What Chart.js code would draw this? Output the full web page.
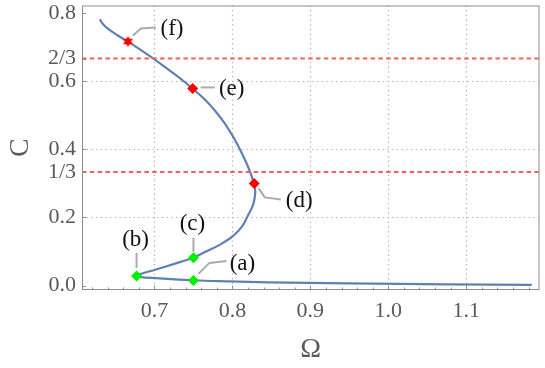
<!DOCTYPE html>
<html>
<head>
<meta charset="utf-8">
<script src="https://cdn.jsdelivr.net/npm/chart.js@4.4.0/dist/chart.umd.min.js"></script>
<style>
  html, body { margin: 0; padding: 0; background: #fff; }
</style>
</head>
<body>
<canvas id="chart" width="545" height="368"></canvas>
<script>
// C(Ω) curve, traced from the upper end down through the fold and out along the lower branch
const omega = [0.6299, 0.6338, 0.6414, 0.6529, 0.6656, 0.6822, 0.7000, 0.7166, 0.7331, 0.7484,
  0.7637, 0.7777, 0.7905, 0.8013, 0.8102, 0.8178, 0.8236, 0.8274, 0.8293, 0.8280,
  0.8248, 0.8201, 0.8127, 0.8006, 0.7841, 0.7662, 0.7497, 0.7274, 0.7019, 0.6767,
  0.7064, 0.7497, 0.7955, 0.8465, 0.9484, 1.0758, 1.1841];
const cValues = [0.7815, 0.7683, 0.7522, 0.7346, 0.7170, 0.6921, 0.6642, 0.6364, 0.6085, 0.5792,
  0.5484, 0.5132, 0.4751, 0.4355, 0.3974, 0.3607, 0.3285, 0.2991, 0.2771, 0.2507,
  0.2273, 0.2067, 0.1745, 0.1452, 0.1202, 0.0997, 0.0815, 0.0651, 0.0469, 0.0279,
  0.0211, 0.0155, 0.0123, 0.0094, 0.0062, 0.0035, 0.0018];

// marked states
const pointLabels = ['(a)', '(b)', '(c)', '(d)', '(e)', '(f)'];
const pointOmega = [0.750, 0.677, 0.750, 0.828, 0.749, 0.666];
const pointC = [0.015, 0.028, 0.0815, 0.300, 0.579, 0.717];

const thresholds = [1 / 3, 2 / 3];

const xTicks = [0.7, 0.8, 0.9, 1.0, 1.1];
const xTickLabels = ['0.7', '0.8', '0.9', '1.0', '1.1'];
const yTicks = [0, 0.2, 1 / 3, 0.4, 0.6, 2 / 3, 0.8];
const yTickLabels = ['0.0', '0.2', '1/3', '0.4', '0.6', '2/3', '0.8'];
const xGrid = [0.7, 0.8, 0.9, 1.0, 1.1];
const yGrid = [0.2, 0.4, 0.6];

const X_MIN = 0.607, X_MAX = 1.194, Y_MIN = -0.0132, Y_MAX = 0.8226;

// look of the markers and callouts (pixel offsets from the marker)
const RED = '#ff0000', GREEN = '#00ee00';
const markerLook = {
  '(a)': { color: GREEN, shape: 'rectRot' },
  '(b)': { color: GREEN, shape: 'rectRot' },
  '(c)': { color: GREEN, shape: 'rectRot' },
  '(d)': { color: RED, shape: 'rectRot' },
  '(e)': { color: RED, shape: 'rectRot' },
  '(f)': { color: RED, shape: 'star' }
};
const calloutLook = {
  '(a)': { leader: [[5, -6.5], [16, -17.5], [33, -19.5]], text: [49, -16] },
  '(b)': { leader: [[0, -8], [0, -23]], text: [-1, -36] },
  '(c)': { leader: [[0, -6], [0, -20]], text: [-1, -34] },
  '(d)': { leader: [[4.5, 5], [10.5, 14], [26.5, 16]], text: [45, 18] },
  '(e)': { leader: [[8, -1], [22, -1]], text: [39, 1] },
  '(f)': { leader: [[5, -6], [13, -13], [28, -14]], text: [44, -12] }
};

function hexStar(r, color) {
  const c = document.createElement('canvas');
  const s = Math.ceil(r * 2 + 2);
  c.width = s; c.height = s;
  const g = c.getContext('2d');
  g.fillStyle = color;
  [-Math.PI / 2, Math.PI / 2].forEach(a0 => {
    g.beginPath();
    for (let k = 0; k < 3; k++) {
      const a = a0 + k * 2 * Math.PI / 3;
      g.lineTo(s / 2 + r * Math.cos(a), s / 2 + r * Math.sin(a));
    }
    g.closePath();
    g.fill();
  });
  return c;
}
const starImg = hexStar(5.5, RED);

const serif = 'Liberation Serif';
const grey = '#595959';

const frameAndCallouts = {
  id: 'frameAndCallouts',
  beforeDatasetsDraw(chart) {
    const { ctx, chartArea: a, scales: { x, y } } = chart;
    ctx.save();
    ctx.strokeStyle = '#b0b0b0';
    ctx.lineWidth = 1.2;
    ctx.setLineDash([1.3, 3.4]);
    xGrid.forEach(v => {
      const px = Math.round(x.getPixelForValue(v)) + 0.5;
      ctx.beginPath(); ctx.moveTo(px, a.top); ctx.lineTo(px, a.bottom); ctx.stroke();
    });
    yGrid.forEach(v => {
      const py = Math.round(y.getPixelForValue(v)) + 0.5;
      ctx.beginPath(); ctx.moveTo(a.left, py); ctx.lineTo(a.right, py); ctx.stroke();
    });
    ctx.restore();
  },
  afterDatasetsDraw(chart) {
    const { ctx, chartArea: a, scales: { x, y } } = chart;
    ctx.save();
    // frame
    ctx.strokeStyle = '#8c8c8c';
    ctx.lineWidth = 1;
    ctx.strokeRect(a.left + 0.5, a.top + 0.5, a.right - a.left - 1, a.bottom - a.top - 1);
    // inward ticks
    ctx.beginPath();
    for (let v = 0.62; v < X_MAX; v += 0.02) {
      const major = xTicks.some(t => Math.abs(t - v) < 1e-6);
      const px = Math.round(x.getPixelForValue(v)) + 0.5;
      ctx.moveTo(px, a.bottom); ctx.lineTo(px, a.bottom - (major ? 4.5 : 2.5));
    }
    yTicks.forEach(v => {
      const py = Math.round(y.getPixelForValue(v)) + 0.5;
      ctx.moveTo(a.left, py); ctx.lineTo(a.left + 4, py);
    });
    ctx.stroke();

    // callouts
    ctx.strokeStyle = '#ababab';
    ctx.lineWidth = 2;
    ctx.fillStyle = '#111';
    ctx.font = '23px "' + serif + '"';
    ctx.textAlign = 'center';
    ctx.textBaseline = 'middle';
    pointLabels.forEach((lab, i) => {
      const px = x.getPixelForValue(pointOmega[i]);
      const py = y.getPixelForValue(pointC[i]);
      const look = calloutLook[lab];
      ctx.beginPath();
      look.leader.forEach(([dx, dy], k) => {
        if (k === 0) ctx.moveTo(px + dx, py + dy); else ctx.lineTo(px + dx, py + dy);
      });
      ctx.stroke();
      ctx.fillText(lab, px + look.text[0], py + look.text[1]);
    });
    ctx.restore();
  }
};

const ctx = document.getElementById('chart').getContext('2d');

new Chart(ctx, {
  type: 'scatter',
  data: {
    datasets: [
      {
        data: pointOmega.map((v, i) => ({ x: v, y: pointC[i] })),
        pointStyle: pointLabels.map(l => markerLook[l].shape === 'star' ? starImg : 'rectRot'),
        backgroundColor: pointLabels.map(l => markerLook[l].color),
        borderColor: pointLabels.map(l => markerLook[l].color),
        borderWidth: 0,
        pointRadius: 5.5,
        order: 0
      },
      ...thresholds.map(t => ({
        data: [{ x: X_MIN, y: t }, { x: X_MAX, y: t }],
        showLine: true,
        borderColor: '#ff5c5c',
        borderWidth: 2,
        borderDash: [4.5, 3.3],
        pointRadius: 0,
        order: 1
      })),
      {
        data: omega.map((v, i) => ({ x: v, y: cValues[i] })),
        showLine: true,
        borderColor: '#5e81b5',
        borderWidth: 2.2,
        tension: 0.35,
        pointRadius: 0,
        order: 2
      }
    ]
  },
  options: {
    responsive: false,
    animation: false,
    devicePixelRatio: 1,
    layout: { padding: { top: 5, right: 2, left: 0, bottom: 0 } },
    plugins: { legend: { display: false }, tooltip: { enabled: false } },
    scales: {
      x: {
        type: 'linear', min: X_MIN, max: X_MAX,
        grid: { display: false, drawTicks: false },
        border: { display: false },
        afterBuildTicks: s => { s.ticks = xTicks.map(v => ({ value: v })); },
        afterFit: s => { s.height = 78; s.paddingLeft = 0; s.paddingRight = 0; },
        ticks: {
          autoSkip: false, maxRotation: 0, padding: 8,
          color: grey, font: { family: serif, size: 22 },
          callback: (v, i) => xTickLabels[i]
        },
        title: {
          display: true, text: 'Ω', color: grey,
          font: { family: serif, size: 28 }, padding: { top: 0, bottom: 2 }
        }
      },
      y: {
        type: 'linear', min: Y_MIN, max: Y_MAX,
        grid: { display: false, drawTicks: false },
        border: { display: false },
        afterBuildTicks: s => { s.ticks = yTicks.map(v => ({ value: v })); },
        afterFit: s => { s.width = 82; s.paddingTop = 0; s.paddingBottom = 0; },
        ticks: {
          autoSkip: false, padding: 6,
          color: grey, font: { family: serif, size: 22 },
          callback: (v, i) => yTickLabels[i]
        },
        title: {
          display: true, text: 'C', color: grey,
          font: { family: serif, size: 28 }, padding: { top: 4, bottom: 0 }
        }
      }
    }
  },
  plugins: [frameAndCallouts]
});
</script>
</body>
</html>
